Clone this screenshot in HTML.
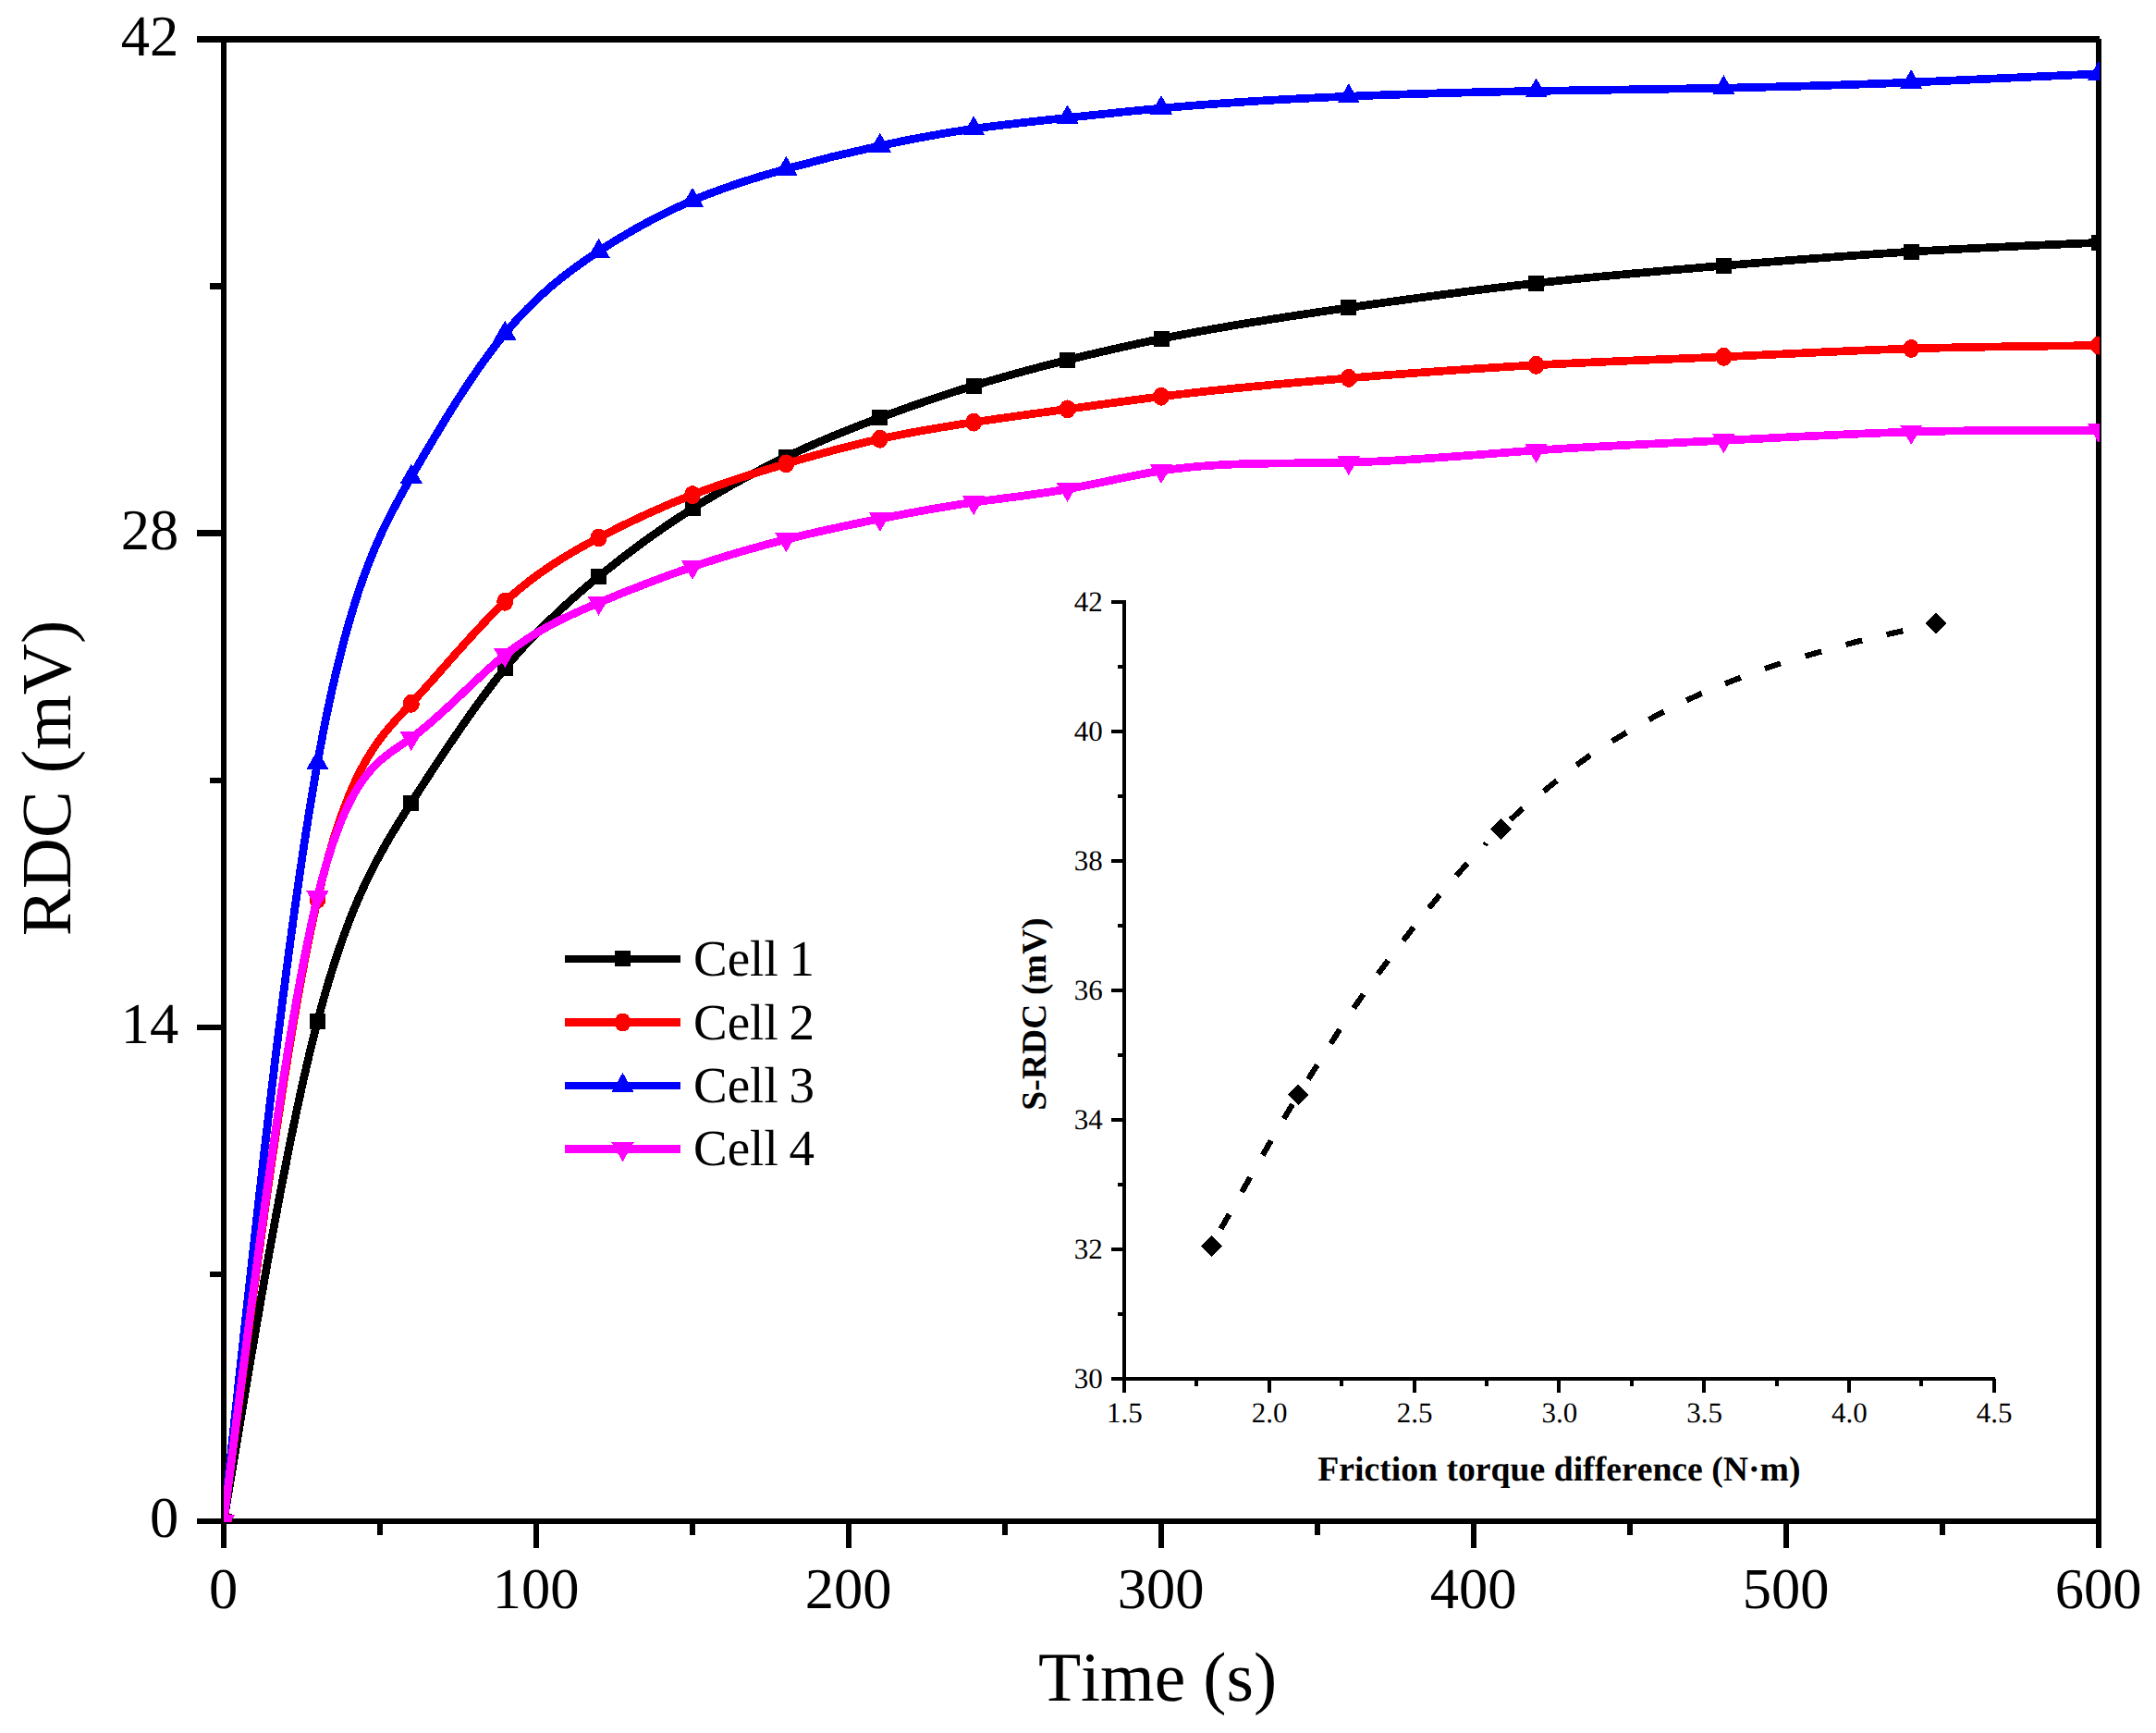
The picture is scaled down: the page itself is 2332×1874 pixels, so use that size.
<!DOCTYPE html>
<html lang="en">
<head>
<meta charset="utf-8">
<title>RDC vs Time</title>
<style>html,body{margin:0;padding:0;background:#ffffff}svg{display:block}</style>
</head>
<body>
<svg width="2332" height="1874" viewBox="0 0 2332 1874" shape-rendering="crispEdges" text-rendering="geometricPrecision" style="font-kerning:none">
<rect width="2332" height="1874" fill="#ffffff"/>
<defs><clipPath id="pc"><rect x="242" y="30" width="2029" height="1616"/></clipPath></defs>
<g fill="#000000">
<rect x="213" y="39" width="2058" height="6.8"/>
<rect x="213" y="1642" width="2060" height="6.2"/>
<rect x="239" y="39" width="6" height="1634.5"/>
<rect x="2267" y="42" width="6.2" height="1631.5"/>
<rect x="213" y="1107.6" width="28" height="6.5"/>
<rect x="213" y="573.4" width="28" height="6.5"/>
<rect x="227" y="1374.7" width="14" height="6.5"/>
<rect x="227" y="840.5" width="14" height="6.5"/>
<rect x="227" y="306.3" width="14" height="6.5"/>
<rect x="577" y="1645" width="6" height="28.5"/>
<rect x="915" y="1645" width="6" height="28.5"/>
<rect x="1253" y="1645" width="6" height="28.5"/>
<rect x="1591" y="1645" width="6" height="28.5"/>
<rect x="1929" y="1645" width="6" height="28.5"/>
<rect x="408" y="1645" width="6" height="14.6"/>
<rect x="746" y="1645" width="6" height="14.6"/>
<rect x="1084" y="1645" width="6" height="14.6"/>
<rect x="1422" y="1645" width="6" height="14.6"/>
<rect x="1760" y="1645" width="6" height="14.6"/>
<rect x="2098" y="1645" width="6" height="14.6"/>
</g>
<g font-family="'Liberation Serif', serif" font-size="62.5" fill="#000000">
<text x="193.3" y="1662.4" text-anchor="end">0</text>
<text x="193.3" y="1128.2" text-anchor="end">14</text>
<text x="193.3" y="594.1" text-anchor="end">28</text>
<text x="193.3" y="59.9" text-anchor="end">42</text>
<text x="241.5" y="1739" text-anchor="middle">0</text>
<text x="579.5" y="1739" text-anchor="middle">100</text>
<text x="917.5" y="1739" text-anchor="middle">200</text>
<text x="1255.5" y="1739" text-anchor="middle">300</text>
<text x="1593.5" y="1739" text-anchor="middle">400</text>
<text x="1931.5" y="1739" text-anchor="middle">500</text>
<text x="2269.5" y="1739" text-anchor="middle">600</text>
</g>
<g font-family="'Liberation Serif', serif" fill="#000000">
<text x="1252" y="1839" font-size="75.6" text-anchor="middle">Time (s)</text>
<text transform="translate(76 841.5) rotate(-90)" font-size="76.4" text-anchor="middle">RDC (mV)</text>
</g>
<g clip-path="url(#pc)">
<path d="M242 1645C275.8 1439.6 309.6 1234.2 343.4 1104.5C377.2 974.8 411 921 444.8 868.2C478.6 815.4 512.4 763.8 546.2 722.7C580 681.6 613.8 651 647.6 623.4C681.4 595.8 715.2 571.3 749 549.9C782.8 528.5 816.6 510.1 850.4 494C884.2 477.9 918 464.2 951.8 451.6C985.6 439 1019.4 427.4 1053.2 417.1C1087 406.8 1120.8 397.7 1154.6 389.3C1188.4 380.9 1222.2 373.2 1256 366.3C1323.6 352.6 1391.2 342.4 1458.8 332.7C1526.4 323 1594 313.7 1661.6 306.2C1729.2 298.7 1796.8 292.9 1864.4 287.3C1932 281.7 1999.6 276.3 2067.2 272.2C2134.8 268.1 2202.4 265.2 2270 262.4" fill="none" stroke="#000000" stroke-width="8.7" stroke-linejoin="round"/>
<rect x="233.5" y="1636.5" width="17" height="17" fill="#000000"/>
<rect x="334.9" y="1096" width="17" height="17" fill="#000000"/>
<rect x="436.3" y="859.7" width="17" height="17" fill="#000000"/>
<rect x="537.7" y="714.2" width="17" height="17" fill="#000000"/>
<rect x="639.1" y="614.9" width="17" height="17" fill="#000000"/>
<rect x="740.5" y="541.4" width="17" height="17" fill="#000000"/>
<rect x="841.9" y="485.5" width="17" height="17" fill="#000000"/>
<rect x="943.3" y="443.1" width="17" height="17" fill="#000000"/>
<rect x="1044.7" y="408.6" width="17" height="17" fill="#000000"/>
<rect x="1146.1" y="380.8" width="17" height="17" fill="#000000"/>
<rect x="1247.5" y="357.8" width="17" height="17" fill="#000000"/>
<rect x="1450.3" y="324.2" width="17" height="17" fill="#000000"/>
<rect x="1653.1" y="297.7" width="17" height="17" fill="#000000"/>
<rect x="1855.9" y="278.8" width="17" height="17" fill="#000000"/>
<rect x="2058.7" y="263.7" width="17" height="17" fill="#000000"/>
<rect x="2261.5" y="253.9" width="17" height="17" fill="#000000"/>
<path d="M242 1645C275.8 1382 309.6 1119 343.4 972.7C377.2 826.4 411 796.9 444.8 760.8C478.6 724.7 512.4 682.1 546.2 650.7C580 619.3 613.8 599.3 647.6 581.5C681.4 563.7 715.2 548.2 749 535.1C782.8 522 816.6 511.4 850.4 501.4C884.2 491.4 918 482.1 951.8 474.7C985.6 467.3 1019.4 461.7 1053.2 456.6C1087 451.5 1120.8 447 1154.6 442.4C1188.4 437.8 1222.2 433 1256 428.8C1323.6 420.4 1391.2 414.4 1458.8 408.9C1526.4 403.4 1594 398.5 1661.6 394.8C1729.2 391.1 1796.8 388.8 1864.4 385.8C1932 382.8 1999.6 379.1 2067.2 377C2134.8 374.9 2202.4 374.2 2270 373.6" fill="none" stroke="#ff0000" stroke-width="8.7" stroke-linejoin="round"/>
<ellipse cx="242" cy="1645" rx="8.9" ry="10" fill="#ff0000"/>
<ellipse cx="343.4" cy="972.7" rx="8.9" ry="10" fill="#ff0000"/>
<ellipse cx="444.8" cy="760.8" rx="8.9" ry="10" fill="#ff0000"/>
<ellipse cx="546.2" cy="650.7" rx="8.9" ry="10" fill="#ff0000"/>
<ellipse cx="647.6" cy="581.5" rx="8.9" ry="10" fill="#ff0000"/>
<ellipse cx="749" cy="535.1" rx="8.9" ry="10" fill="#ff0000"/>
<ellipse cx="850.4" cy="501.4" rx="8.9" ry="10" fill="#ff0000"/>
<ellipse cx="951.8" cy="474.7" rx="8.9" ry="10" fill="#ff0000"/>
<ellipse cx="1053.2" cy="456.6" rx="8.9" ry="10" fill="#ff0000"/>
<ellipse cx="1154.6" cy="442.4" rx="8.9" ry="10" fill="#ff0000"/>
<ellipse cx="1256" cy="428.8" rx="8.9" ry="10" fill="#ff0000"/>
<ellipse cx="1458.8" cy="408.9" rx="8.9" ry="10" fill="#ff0000"/>
<ellipse cx="1661.6" cy="394.8" rx="8.9" ry="10" fill="#ff0000"/>
<ellipse cx="1864.4" cy="385.8" rx="8.9" ry="10" fill="#ff0000"/>
<ellipse cx="2067.2" cy="377" rx="8.9" ry="10" fill="#ff0000"/>
<ellipse cx="2270" cy="373.6" rx="8.9" ry="10" fill="#ff0000"/>
<path d="M242 1645C275.8 1329.3 309.6 1013.7 343.4 825C377.2 636.3 411 574.6 444.8 515.9C478.6 457.2 512.4 401.4 546.2 360.6C580 319.8 613.8 293.8 647.6 271.7C681.4 249.6 715.2 231.2 749 216.8C782.8 202.4 816.6 192 850.4 182.6C884.2 173.2 918 164.9 951.8 157.6C985.6 150.3 1019.4 144.1 1053.2 139.3C1087 134.5 1120.8 131 1154.6 127.4C1188.4 123.8 1222.2 120.2 1256 117.1C1323.6 110.9 1391.2 107 1458.8 104.2C1526.4 101.4 1594 99.6 1661.6 98.4C1729.2 97.2 1796.8 96.6 1864.4 95.2C1932 93.8 1999.6 91.8 2067.2 89.1C2134.8 86.4 2202.4 83.1 2270 79.8" fill="none" stroke="#0000ff" stroke-width="8.7" stroke-linejoin="round"/>
<path d="M242 1631L254.1 1652L229.9 1652Z" fill="#0000ff"/>
<path d="M343.4 811L355.5 832L331.3 832Z" fill="#0000ff"/>
<path d="M444.8 501.9L456.9 522.9L432.7 522.9Z" fill="#0000ff"/>
<path d="M546.2 346.6L558.3 367.6L534.1 367.6Z" fill="#0000ff"/>
<path d="M647.6 257.7L659.7 278.7L635.5 278.7Z" fill="#0000ff"/>
<path d="M749 202.8L761.1 223.8L736.9 223.8Z" fill="#0000ff"/>
<path d="M850.4 168.6L862.5 189.6L838.3 189.6Z" fill="#0000ff"/>
<path d="M951.8 143.6L963.9 164.6L939.7 164.6Z" fill="#0000ff"/>
<path d="M1053.2 125.3L1065.3 146.3L1041.1 146.3Z" fill="#0000ff"/>
<path d="M1154.6 113.4L1166.7 134.4L1142.5 134.4Z" fill="#0000ff"/>
<path d="M1256 103.1L1268.1 124.1L1243.9 124.1Z" fill="#0000ff"/>
<path d="M1458.8 90.2L1470.9 111.2L1446.7 111.2Z" fill="#0000ff"/>
<path d="M1661.6 84.4L1673.7 105.4L1649.5 105.4Z" fill="#0000ff"/>
<path d="M1864.4 81.2L1876.5 102.2L1852.3 102.2Z" fill="#0000ff"/>
<path d="M2067.2 75.1L2079.3 96.1L2055.1 96.1Z" fill="#0000ff"/>
<path d="M2270 65.8L2282.1 86.8L2257.9 86.8Z" fill="#0000ff"/>
<path d="M242 1645C275.8 1377 309.6 1109 343.4 970.3C377.2 831.6 411 822.3 444.8 798.2C478.6 774.1 512.4 735.2 546.2 708.2C580 681.2 613.8 666 647.6 651.8C681.4 637.6 715.2 624.5 749 613C782.8 601.5 816.6 591.8 850.4 583.3C884.2 574.8 918 567.7 951.8 561C985.6 554.3 1019.4 548 1053.2 543.2C1087 538.4 1120.8 534.9 1154.6 528.9C1188.4 522.9 1222.2 514.3 1256 509.1C1323.6 498.7 1391.2 501.9 1458.8 500.1C1526.4 498.3 1594 491.7 1661.6 487C1729.2 482.3 1796.8 479.6 1864.4 476.3C1932 473 1999.6 469 2067.2 467C2134.8 465 2202.4 465.1 2270 465.2" fill="none" stroke="#ff00ff" stroke-width="8.7" stroke-linejoin="round"/>
<path d="M242 1659L254.1 1638L229.9 1638Z" fill="#ff00ff"/>
<path d="M343.4 984.3L355.5 963.3L331.3 963.3Z" fill="#ff00ff"/>
<path d="M444.8 812.2L456.9 791.2L432.7 791.2Z" fill="#ff00ff"/>
<path d="M546.2 722.2L558.3 701.2L534.1 701.2Z" fill="#ff00ff"/>
<path d="M647.6 665.8L659.7 644.8L635.5 644.8Z" fill="#ff00ff"/>
<path d="M749 627L761.1 606L736.9 606Z" fill="#ff00ff"/>
<path d="M850.4 597.3L862.5 576.3L838.3 576.3Z" fill="#ff00ff"/>
<path d="M951.8 575L963.9 554L939.7 554Z" fill="#ff00ff"/>
<path d="M1053.2 557.2L1065.3 536.2L1041.1 536.2Z" fill="#ff00ff"/>
<path d="M1154.6 542.9L1166.7 521.9L1142.5 521.9Z" fill="#ff00ff"/>
<path d="M1256 523.1L1268.1 502.1L1243.9 502.1Z" fill="#ff00ff"/>
<path d="M1458.8 514.1L1470.9 493.1L1446.7 493.1Z" fill="#ff00ff"/>
<path d="M1661.6 501L1673.7 480L1649.5 480Z" fill="#ff00ff"/>
<path d="M1864.4 490.3L1876.5 469.3L1852.3 469.3Z" fill="#ff00ff"/>
<path d="M2067.2 481L2079.3 460L2055.1 460Z" fill="#ff00ff"/>
<path d="M2270 479.2L2282.1 458.2L2257.9 458.2Z" fill="#ff00ff"/>
</g>
<g>
<rect x="611" y="1032.6" width="125" height="8.7" fill="#000000"/>
<rect x="665" y="1028.4" width="17" height="17" fill="#000000"/>
<rect x="611" y="1101.2" width="125" height="8.7" fill="#ff0000"/>
<ellipse cx="673.5" cy="1105.5" rx="8.9" ry="10" fill="#ff0000"/>
<rect x="611" y="1169.7" width="125" height="8.7" fill="#0000ff"/>
<path d="M673.5 1160L685.6 1181L661.4 1181Z" fill="#0000ff"/>
<rect x="611" y="1238.1" width="125" height="8.7" fill="#ff00ff"/>
<path d="M673.5 1256.4L685.6 1235.4L661.4 1235.4Z" fill="#ff00ff"/>
</g>
<g font-family="'Liberation Serif', serif" font-size="55" word-spacing="-1.8" fill="#000000">
<text x="750" y="1054.9">Cell 1</text>
<text x="750" y="1123.5">Cell 2</text>
<text x="750" y="1192">Cell 3</text>
<text x="750" y="1260.4">Cell 4</text>
</g>
<g fill="#000000">
<rect x="1214" y="649" width="4" height="857"/>
<rect x="1202" y="1489" width="956" height="4"/>
<rect x="1209" y="1419" width="7" height="4"/>
<rect x="1202" y="1349" width="14" height="4"/>
<rect x="1209" y="1279" width="7" height="4"/>
<rect x="1202" y="1209" width="14" height="4"/>
<rect x="1209" y="1139" width="7" height="4"/>
<rect x="1202" y="1069" width="14" height="4"/>
<rect x="1209" y="999" width="7" height="4"/>
<rect x="1202" y="929" width="14" height="4"/>
<rect x="1209" y="859" width="7" height="4"/>
<rect x="1202" y="789" width="14" height="4"/>
<rect x="1209" y="719" width="7" height="4"/>
<rect x="1202" y="649" width="14" height="4"/>
<rect x="1292.4" y="1491" width="4" height="8.3"/>
<rect x="1370.8" y="1491" width="4" height="15"/>
<rect x="1449.2" y="1491" width="4" height="8.3"/>
<rect x="1527.6" y="1491" width="4" height="15"/>
<rect x="1606" y="1491" width="4" height="8.3"/>
<rect x="1684.4" y="1491" width="4" height="15"/>
<rect x="1762.8" y="1491" width="4" height="8.3"/>
<rect x="1841.2" y="1491" width="4" height="15"/>
<rect x="1919.6" y="1491" width="4" height="8.3"/>
<rect x="1998" y="1491" width="4" height="15"/>
<rect x="2076.4" y="1491" width="4" height="8.3"/>
<rect x="2154.8" y="1491" width="4" height="15"/>
</g>
<g font-family="'Liberation Serif', serif" font-size="31" fill="#000000">
<text x="1192.8" y="1501" text-anchor="end">30</text>
<text x="1192.8" y="1361" text-anchor="end">32</text>
<text x="1192.8" y="1221" text-anchor="end">34</text>
<text x="1192.8" y="1081" text-anchor="end">36</text>
<text x="1192.8" y="941" text-anchor="end">38</text>
<text x="1192.8" y="801" text-anchor="end">40</text>
<text x="1192.8" y="661" text-anchor="end">42</text>
<text x="1216.4" y="1538" text-anchor="middle">1.5</text>
<text x="1373.2" y="1538" text-anchor="middle">2.0</text>
<text x="1530" y="1538" text-anchor="middle">2.5</text>
<text x="1686.8" y="1538" text-anchor="middle">3.0</text>
<text x="1843.6" y="1538" text-anchor="middle">3.5</text>
<text x="2000.4" y="1538" text-anchor="middle">4.0</text>
<text x="2157.2" y="1538" text-anchor="middle">4.5</text>
</g>
<g font-family="'Liberation Serif', serif" font-weight="bold" font-size="37.7" fill="#000000">
<text x="1686.4" y="1601.4" text-anchor="middle">Friction torque difference (N·m)</text>
<text transform="translate(1131.4 1096.5) rotate(-90)" text-anchor="middle">S-RDC (mV)</text>
</g>
<g stroke="#000000" stroke-width="6.2" fill="#000000">
<line x1="1320.6" y1="1328.8" x2="1329.6" y2="1313"/>
<line x1="1343.2" y1="1288.9" x2="1352.2" y2="1273.1"/>
<line x1="1365.8" y1="1249.1" x2="1374.8" y2="1233.3"/>
<line x1="1388.8" y1="1209.7" x2="1398" y2="1194.1"/>
<line x1="1415" y1="1167" x2="1424.8" y2="1151.6"/>
<line x1="1439.4" y1="1128.5" x2="1449.2" y2="1113.1"/>
<line x1="1464.3" y1="1090.1" x2="1474.7" y2="1075.1"/>
<line x1="1490.6" y1="1053.2" x2="1501.4" y2="1038.6"/>
<line x1="1517.8" y1="1017.1" x2="1529" y2="1002.7"/>
<line x1="1545.6" y1="981.9" x2="1557.2" y2="967.9"/>
<line x1="1575.1" y1="947" x2="1587.3" y2="933.6"/>
<line x1="1633.7" y1="886.5" x2="1647.1" y2="874.1"/>
<line x1="1669.7" y1="855.6" x2="1683.9" y2="844.2"/>
<line x1="1705.3" y1="827.3" x2="1720.1" y2="816.7"/>
<line x1="1743.6" y1="801.5" x2="1759.2" y2="792.1"/>
<line x1="1783.6" y1="778.1" x2="1799.6" y2="769.5"/>
<line x1="1824.1" y1="757.4" x2="1840.7" y2="749.8"/>
<line x1="1865.9" y1="739.3" x2="1882.9" y2="732.7"/>
<line x1="1908.9" y1="723.1" x2="1926.1" y2="717.3"/>
<line x1="1952.7" y1="709.5" x2="1970.1" y2="704.5"/>
<line x1="1996.6" y1="697" x2="2014.2" y2="692.4"/>
<line x1="2040.6" y1="686.2" x2="2058.4" y2="682.2"/>
<line x1="1605.8" y1="913.8" x2="1607.6" y2="911.7"/>
</g>
<g fill="#000000">
<path d="M1310.2 1336.2L1321.6 1347.6L1310.2 1359L1298.8 1347.6Z"/>
<path d="M1404.3 1172.4L1415.7 1183.8L1404.3 1195.2L1392.9 1183.8Z"/>
<path d="M1623.6 885.1L1635 896.5L1623.6 907.9L1612.2 896.5Z"/>
<path d="M2093.8 662.6L2105.2 674L2093.8 685.4L2082.4 674Z"/>
</g>
</svg>
</body>
</html>
